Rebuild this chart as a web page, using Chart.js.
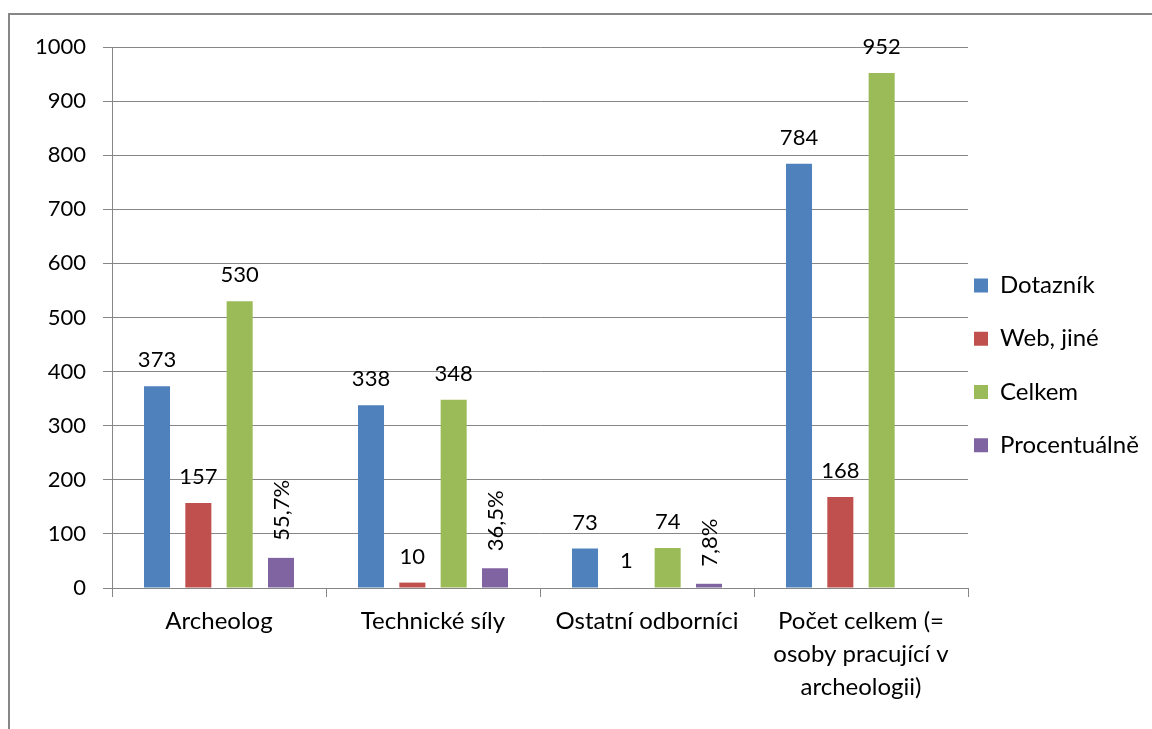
<!DOCTYPE html>
<html>
<head>
<meta charset="utf-8">
<script src="https://cdn.jsdelivr.net/npm/chart.js@4/dist/chart.umd.min.js"></script>
<style>
    html, body { margin: 0; padding: 0; background: #fff; }
    #frame {
        position: absolute; left: 8px; top: 13px;
        width: 1200px; height: 800px;
        border: 2px solid #878787;
    }
    #chart { position: absolute; left: 0; top: 0; }
</style>
</head>
<body>
<div id="frame"></div>
<canvas id="chart" width="1152" height="729"></canvas>
<script>
    const categories = [
        "Archeolog",
        "Technické síly",
        "Ostatní odborníci",
        ["Počet celkem (=", "osoby pracující v", "archeologii)"]
    ];
    const dotaznik = [373, 338, 73, 784];
    const webJine = [157, 10, 1, 168];
    const celkem = [530, 348, 74, 952];
    const procentualne = [55.7, 36.5, 7.8, null];
    const yTicks = { min: 0, max: 1000, step: 100 };

    const gridGray = "#868686";
    const fontFamily = "Lato";
    const numSize = 22;
    const wordSize = 24;

    Chart.defaults.font.family = fontFamily;
    Chart.defaults.color = "#000";

    // legend is on the right; work out its width so the plot ends where the original does
    const plotRight = 968;
    const legendPad = 6;
    const legendBox = 14;
    const measure = document.createElement("canvas").getContext("2d");
    measure.font = wordSize + "px " + fontFamily;
    const longest = Math.max(...["Dotazník", "Web, jiné", "Celkem", "Procentuálně"].map(t => measure.measureText(t).width));
    const legendWidth = legendPad + legendBox + wordSize / 2 + longest + 10;
    const rightPad = Math.max(0, 1152 - plotRight - legendWidth);

    // value labels above bars, the percentage series rotated
    const barLabels = {
        id: "barLabels",
        afterDatasetsDraw(chart) {
            const ctx = chart.ctx;
            ctx.save();
            ctx.fillStyle = "#000";
            ctx.font = numSize + "px " + fontFamily;
            chart.data.datasets.forEach((ds, i) => {
                const meta = chart.getDatasetMeta(i);
                meta.data.forEach((bar, j) => {
                    const v = ds.data[j];
                    if (v === null || v === undefined) return;
                    if (ds.isPercent) {
                        ctx.save();
                        ctx.translate(bar.x, bar.y - 17);
                        ctx.rotate(-Math.PI / 2);
                        ctx.textAlign = "left";
                        ctx.textBaseline = "middle";
                        ctx.fillText(v.toFixed(1).replace(".", ",") + "%", 0, 1);
                        ctx.restore();
                    } else {
                        ctx.textAlign = "center";
                        ctx.textBaseline = "alphabetic";
                        ctx.fillText(String(v), bar.x, bar.y - 19);
                    }
                });
            });
            ctx.restore();
        }
    };

    const ctx = document.getElementById("chart").getContext("2d");
    new Chart(ctx, {
        type: "bar",
        data: {
            labels: categories,
            datasets: [
                { label: "Dotazník", data: dotaznik, backgroundColor: "#4F81BD" },
                { label: "Web, jiné", data: webJine, backgroundColor: "#C0504D" },
                { label: "Celkem", data: celkem, backgroundColor: "#9BBB59" },
                { label: "Procentuálně", data: procentualne, backgroundColor: "#8064A2", isPercent: true }
            ]
        },
        options: {
            responsive: false,
            animation: false,
            devicePixelRatio: 1,
            categoryPercentage: 0.7725,
            barPercentage: 0.63,
            layout: { padding: { left: 0, top: 47, right: rightPad, bottom: 22 } },
            plugins: {
                tooltip: { enabled: false },
                legend: {
                    position: "right",
                    labels: {
                        boxWidth: legendBox,
                        boxHeight: legendBox,
                        padding: legendPad,
                        color: "#000",
                        font: { size: wordSize, family: fontFamily, lineHeight: "47.3px" },
                        generateLabels(chart) {
                            const items = Chart.defaults.plugins.legend.labels.generateLabels(chart);
                            items.forEach(it => { it.text = [it.text]; it.lineWidth = 0; });
                            return items;
                        }
                    }
                }
            },
            scales: {
                x: {
                    afterFit(scale) { scale.height = 729 - 22 - 588; },
                    grid: {
                        offset: true,
                        drawOnChartArea: false,
                        drawTicks: true,
                        tickLength: 9,
                        color: gridGray,
                        lineWidth: 1
                    },
                    border: { display: true, color: gridGray, width: 1 },
                    ticks: {
                        color: "#000",
                        padding: 8,
                        maxRotation: 0,
                        autoSkip: false,
                        font: { size: wordSize, family: fontFamily, lineHeight: "33px" }
                    }
                },
                y: {
                    min: yTicks.min,
                    max: yTicks.max,
                    afterFit(scale) { scale.width = 112; },
                    grid: {
                        color: gridGray,
                        lineWidth: 1,
                        drawTicks: true,
                        tickLength: 9
                    },
                    border: { display: true, color: gridGray, width: 1 },
                    ticks: {
                        stepSize: yTicks.step,
                        padding: 17,
                        color: "#000",
                        font: { size: numSize, family: fontFamily },
                        callback: v => String(v)
                    }
                }
            }
        },
        plugins: [barLabels]
    });
</script>
</body>
</html>
